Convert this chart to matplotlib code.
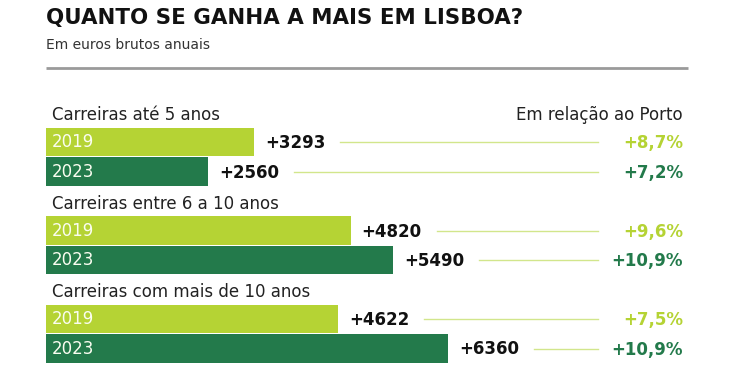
import matplotlib.pyplot as plt

grupos = ["Carreiras até 5 anos", "Carreiras entre 6 a 10 anos", "Carreiras com mais de 10 anos"]
anos = ["2019", "2023"]
dif_2019 = [3293, 4820, 4622]
dif_2023 = [2560, 5490, 6360]
pct_2019 = ["+8,7%", "+9,6%", "+7,5%"]
pct_2023 = ["+7,2%", "+10,9%", "+10,9%"]

VERDE_CLARO = "#b5d334"
VERDE_ESCURO = "#237a4b"
LINHA = "#d2e68c"

W, H = 740, 389
PX_EURO = 0.0632  # pixels por euro
X0 = 46

fig = plt.figure(figsize=(W / 100, H / 100), dpi=100)
ax = fig.add_axes([0, 0, 1, 1])
ax.set_xlim(-X0 / PX_EURO, (W - X0) / PX_EURO)
ax.set_ylim(H, 0)
ax.axis("off")

def px(n):
    return n / PX_EURO

# titulo
fig.text(X0 / W, 1 - 18 / H, "QUANTO SE GANHA A MAIS EM LISBOA?", fontsize=15.4,
         fontweight="heavy", family="DejaVu Sans", va="center", ha="left", color="#111111")
fig.text(X0 / W, 1 - 45 / H, "Em euros brutos anuais", fontsize=10, va="center",
         ha="left", color="#333333")
ax.plot([0, px(688 - X0)], [68, 68], color="#9a9a9a", lw=2, solid_capstyle="butt")

ax.text(px(683 - X0), 115, "Em relação ao Porto", fontsize=12, ha="right", va="center",
        color="#222222")

for i, g in enumerate(grupos):
    topo = 128 + i * 88.5
    ax.text(px(6), topo - 13, g, fontsize=12, ha="left", va="center", color="#222222")
    linhas = [(dif_2019[i], pct_2019[i], VERDE_CLARO, topo + 14),
              (dif_2023[i], pct_2023[i], VERDE_ESCURO, topo + 43.5)]
    for j, (v, pct, cor, yc) in enumerate(linhas):
        ax.barh(yc, v, height=28.5, left=0, color=cor, edgecolor="none")
        ax.text(px(6), yc, anos[j], fontsize=12, ha="left", va="center",
                color="#fafdf0")
        ax.text(v + px(11), yc + 1, f"+{v}", fontsize=12, fontweight="bold",
                ha="left", va="center", color="#111111")
        ax.plot([v + px(86), px(598 - X0)], [yc, yc], color=LINHA, lw=1)
        ax.text(px(683 - X0), yc + 1, pct, fontsize=12, fontweight="bold",
                ha="right", va="center", color=cor)

fig.savefig("out.png", dpi=100, facecolor="white")
